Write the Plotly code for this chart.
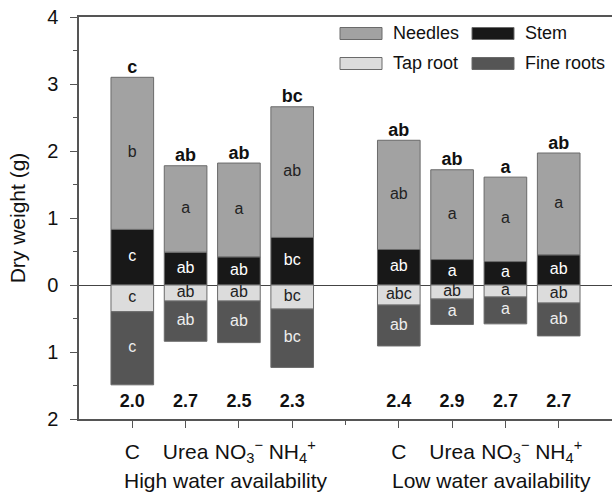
import plotly.graph_objects as go

# ---------------- data ----------------
positions = [1, 2, 3, 4, 6, 7, 8, 9]
treatments = ["C", "Urea", "NO<sub>3</sub><sup>−</sup>", "NH<sub>4</sub><sup>+</sup>",
              "C", "Urea", "NO<sub>3</sub><sup>−</sup>", "NH<sub>4</sub><sup>+</sup>"]
groups = ["High water availability", "Low water availability"]

stem = [0.83, 0.49, 0.42, 0.71, 0.53, 0.38, 0.35, 0.45]
needles = [2.27, 1.29, 1.40, 1.95, 1.63, 1.34, 1.26, 1.52]
tap_root = [0.40, 0.24, 0.24, 0.36, 0.30, 0.21, 0.18, 0.27]
fine_roots = [1.09, 0.60, 0.62, 0.87, 0.61, 0.38, 0.40, 0.49]

needles_letters = ["b", "a", "a", "ab", "ab", "a", "a", "a"]
stem_letters = ["c", "ab", "ab", "bc", "ab", "a", "a", "ab"]
tap_letters = ["c", "ab", "ab", "bc", "abc", "ab", "a", "ab"]
fine_letters = ["c", "ab", "ab", "bc", "ab", "a", "a", "ab"]
total_letters = ["c", "ab", "ab", "bc", "ab", "ab", "a", "ab"]
ratios = ["2.0", "2.7", "2.5", "2.3", "2.4", "2.9", "2.7", "2.7"]

y_tickvals = [-2, -1, 0, 1, 2, 3, 4]
y_ticktext = ["2", "1", "0", "1", "2", "3", "4"]

# ---------------- style ----------------
FONT = "Arial, Liberation Sans, sans-serif"
C_NEEDLES = "#a2a2a2"
C_STEM = "#181818"
C_TAP = "#dcdcdc"
C_FINE = "#555555"
EDGE = dict(color="#6a6a6a", width=1)
AX = "#555555"
RATIO_Y = -1.75

W, H = 612, 496
ML, MR, MT, MB = 79, 0, 17, 77
PW, PH = W - ML - MR, H - MT - MB


def px(x):
    return (x - ML) / PW


def py(y):
    return (H - MB - y) / PH


fig = go.Figure()

neg_tap = [-v for v in tap_root]
neg_fine = [-v for v in fine_roots]

fig.add_bar(x=positions, y=stem, name="Stem", marker=dict(color=C_STEM, line=EDGE), width=0.8)
fig.add_bar(x=positions, y=needles, name="Needles", marker=dict(color=C_NEEDLES, line=EDGE), width=0.8)
fig.add_bar(x=positions, y=neg_tap, name="Tap root", marker=dict(color=C_TAP, line=EDGE), width=0.8)
fig.add_bar(x=positions, y=neg_fine, name="Fine roots", marker=dict(color=C_FINE, line=EDGE), width=0.8)

# labels inside segments
stem_mid = [s / 2 for s in stem]
needle_mid = [s + n / 2 for s, n in zip(stem, needles)]
tap_mid = [-t / 2 for t in tap_root]
fine_mid = [-t - f / 2 for t, f in zip(tap_root, fine_roots)]
totals = [s + n for s, n in zip(stem, needles)]

for ys, txt, col in [(stem_mid, stem_letters, "white"),
                     (needle_mid, needles_letters, "#222222"),
                     (tap_mid, tap_letters, "#222222"),
                     (fine_mid, fine_letters, "#eeeeee")]:
    fig.add_scatter(x=positions, y=ys, text=txt, mode="text", textposition="middle center",
                    textfont=dict(family=FONT, size=16, color=col), showlegend=False, hoverinfo="skip")

fig.add_scatter(x=positions, y=totals, text=["<b>%s</b>" % t for t in total_letters], mode="text",
                textposition="top center", textfont=dict(family=FONT, size=18, color="#111111"),
                showlegend=False, hoverinfo="skip")
fig.add_scatter(x=positions, y=[RATIO_Y] * len(positions), text=["<b>%s</b>" % t for t in ratios],
                mode="text", textposition="middle center",
                textfont=dict(family=FONT, size=18, color="#111111"), showlegend=False, hoverinfo="skip")

# group labels
for gx, g in zip([2.75, 7.73], groups):
    fig.add_annotation(x=gx, xref="x", y=py(480), yref="paper", text=g, showarrow=False,
                       font=dict(family=FONT, size=21, color="#111111"), yanchor="middle")

# manual legend
legend_items = [("Needles", C_NEEDLES, 340, 33.5), ("Stem", C_STEM, 472, 33.5),
                ("Tap root", C_TAP, 340, 63.5), ("Fine roots", C_FINE, 472, 63.5)]
for name, col, x0, yc in legend_items:
    fig.add_shape(type="rect", xref="paper", yref="paper", x0=px(x0), x1=px(x0 + 42),
                  y0=py(yc - 6), y1=py(yc + 6), fillcolor=col, line=dict(color="#6a6a6a", width=1))
    fig.add_annotation(xref="paper", yref="paper", x=px(x0 + 51), y=py(yc), text=name,
                       showarrow=False, xanchor="left", yanchor="middle",
                       font=dict(family=FONT, size=18, color="#111111"))

fig.update_layout(
    width=W, height=H, barmode="relative", showlegend=False,
    margin=dict(l=ML, r=MR, t=MT, b=MB),
    plot_bgcolor="white", paper_bgcolor="white",
    font=dict(family=FONT, color="#111111"),
    xaxis=dict(range=[0, 10], tickvals=positions, ticktext=treatments, ticks="outside",
               ticklen=7, tickcolor=AX, showline=True, linecolor=AX, linewidth=1.5, mirror=True,
               showgrid=False, zeroline=False, tickfont=dict(family=FONT, size=21, color="#111111"),
               ticklabelstandoff=6,
               minor=dict(tickvals=[5], ticks="outside", ticklen=4, tickcolor=AX)),
    yaxis=dict(range=[-2, 4], tickvals=y_tickvals, ticktext=y_ticktext, ticks="outside",
               ticklen=7, tickcolor=AX, showline=True, linecolor=AX, linewidth=1.5,
               showgrid=False, zeroline=True, zerolinecolor="#444444", zerolinewidth=1.2,
               tickfont=dict(family=FONT, size=20, color="#111111"), ticklabelstandoff=8,
               title=dict(text="Dry weight (g)", font=dict(family=FONT, size=21, color="#111111"),
                          standoff=16),
               minor=dict(dtick=0.5, ticks="outside", ticklen=4, tickcolor=AX)),
)

fig.write_html("out.html")
